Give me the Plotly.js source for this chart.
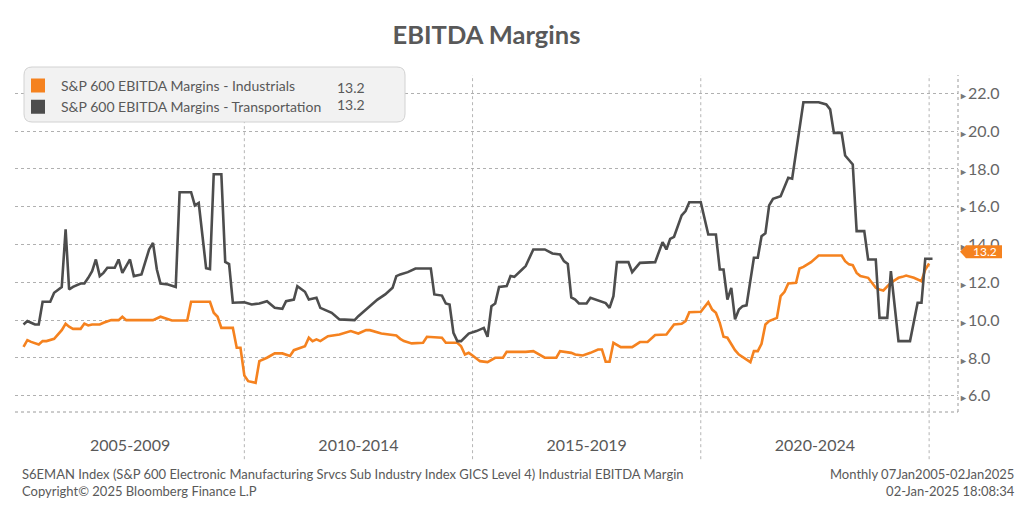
<!DOCTYPE html>
<html><head><meta charset="utf-8">
<script src="https://cdn.plot.ly/plotly-3.0.1.min.js"></script>
<style>html,body{margin:0;padding:0;background:#fff}#chart{width:1024px;height:513px}</style>
</head><body><div id="chart"></div>
<script>
const chartTitle = 'EBITDA Margins';
const seriesNames = ['S&P 600 EBITDA Margins - Industrials', 'S&P 600 EBITDA Margins - Transportation'];
const lastValues = [13.2, 13.2];
const periodTickVals = ['2007-07-02', '2012-07-02', '2017-07-02', '2022-07-02'];
const periodLabels = ['2005-2009', '2010-2014', '2015-2019', '2020-2024'];
const periodBounds = ['2010-01-01', '2015-01-01', '2020-01-01', '2025-01-01'];
const yTickVals = [6, 8, 10, 12, 14, 16, 18, 20, 22];
const footLeft = 'S6EMAN Index (S&P 600 Electronic Manufacturing Srvcs Sub Industry Index GICS Level 4) Industrial EBITDA Margin<br>Copyright© 2025 Bloomberg Finance L.P';
const footRight = 'Monthly 07Jan2005-02Jan2025<br>02-Jan-2025 18:08:34';

const indDates = ['2005-03','2005-04','2005-05','2005-07','2005-08','2005-09','2005-11','2005-12','2006-01','2006-02','2006-03','2006-04','2006-06','2006-07','2006-08','2006-09','2006-11','2006-12','2007-02','2007-04','2007-05','2007-06','2008-01','2008-03','2008-06','2008-10','2008-11','2009-04','2009-05','2009-06','2009-07','2009-10','2009-11','2009-12','2010-01','2010-02','2010-04','2010-05','2010-07','2010-09','2010-11','2011-01','2011-02','2011-05','2011-06','2011-07','2011-08','2011-09','2011-11','2012-02','2012-05','2012-07','2012-09','2012-10','2013-01','2013-05','2013-06','2013-07','2013-09','2013-12','2014-01','2014-05','2014-06','2014-09','2014-10','2014-11','2014-12','2015-01','2015-03','2015-05','2015-07','2015-09','2015-10','2016-03','2016-05','2016-08','2016-11','2016-12','2017-03','2017-04','2017-06','2017-08','2017-10','2017-11','2017-12','2018-01','2018-02','2018-04','2018-07','2018-09','2018-11','2019-01','2019-04','2019-06','2019-08','2019-09','2019-10','2020-01','2020-03','2020-04','2020-05','2020-06','2020-07','2020-08','2020-10','2020-11','2021-02','2021-03','2021-04','2021-05','2021-06','2021-07','2021-09','2021-10','2021-11','2021-12','2022-02','2022-03','2022-04','2022-06','2022-08','2023-02','2023-03','2023-04','2023-05','2023-06','2023-07','2023-09','2023-11','2023-12','2024-01','2024-03','2024-05','2024-06','2024-07','2024-09','2024-11','2024-12','2025-01'];
const indValues = [8.59,8.94,8.85,8.71,8.89,8.89,9.01,9.24,9.47,9.81,9.65,9.54,9.54,9.82,9.72,9.77,9.77,9.86,10.00,10.00,10.18,10.00,10.00,10.18,9.98,9.98,10.97,10.97,10.39,10.18,9.59,9.59,8.54,8.54,7.07,6.77,6.68,7.83,8.01,8.24,8.24,8.10,8.41,8.62,9.07,8.89,8.98,8.89,9.15,9.24,9.42,9.29,9.47,9.47,9.29,9.19,9.01,8.89,8.77,8.80,9.12,9.07,8.80,8.80,8.62,8.18,8.27,8.13,7.83,7.78,8.01,8.01,8.32,8.32,8.36,8.01,8.01,8.36,8.27,8.18,8.13,8.27,8.45,8.45,7.80,7.80,8.80,8.57,8.57,8.84,8.84,9.21,9.24,9.77,9.81,9.95,10.42,10.44,10.95,10.56,10.39,9.86,9.12,9.07,8.41,8.18,7.78,8.36,8.36,8.75,9.77,9.95,10.12,11.27,11.50,11.94,11.98,12.73,12.82,13.07,13.42,13.42,13.12,12.95,12.91,12.50,12.33,12.24,11.71,11.62,11.57,11.98,12.24,12.29,12.36,12.24,12.06,12.68,13.00];

const trnDates = ['2005-03','2005-04','2005-05','2005-06','2005-07','2005-08','2005-10','2005-11','2006-01','2006-02','2006-03','2006-04','2006-06','2006-07','2006-08','2006-09','2006-10','2006-11','2006-12','2007-01','2007-03','2007-04','2007-05','2007-07','2007-08','2007-10','2007-12','2008-01','2008-02','2008-03','2008-05','2008-07','2008-08','2008-11','2008-12','2009-01','2009-02','2009-03','2009-04','2009-05','2009-07','2009-08','2009-09','2009-10','2010-01','2010-03','2010-05','2010-07','2010-09','2010-11','2010-12','2011-02','2011-03','2011-05','2011-06','2011-08','2011-09','2011-12','2012-02','2012-06','2012-07','2012-09','2012-11','2012-12','2013-02','2013-04','2013-05','2013-06','2013-08','2013-10','2014-02','2014-03','2014-05','2014-06','2014-07','2014-08','2014-09','2014-10','2014-12','2015-02','2015-04','2015-05','2015-06','2015-07','2015-08','2015-10','2015-11','2015-12','2016-02','2016-03','2016-05','2016-08','2016-10','2016-12','2017-01','2017-02','2017-03','2017-04','2017-05','2017-07','2017-08','2017-10','2017-12','2018-01','2018-02','2018-03','2018-06','2018-07','2018-09','2019-01','2019-03','2019-04','2019-05','2019-06','2019-08','2019-09','2019-10','2020-01','2020-03','2020-05','2020-06','2020-07','2020-08','2020-09','2020-10','2020-11','2020-12','2021-01','2021-03','2021-04','2021-05','2021-06','2021-07','2021-08','2021-10','2021-12','2022-01','2022-04','2022-08','2022-10','2022-11','2022-12','2023-02','2023-03','2023-05','2023-06','2023-08','2023-09','2023-11','2023-12','2024-02','2024-03','2024-05','2024-08','2024-10','2024-11','2024-12','2025-01-28'];
const trnValues = [9.77,9.95,9.86,9.77,9.77,10.97,10.97,11.45,11.75,14.80,11.62,11.76,11.94,11.94,12.24,12.59,13.21,12.33,12.50,12.77,12.77,13.21,12.50,13.21,12.33,12.42,13.74,14.09,12.68,11.94,11.89,11.76,16.77,16.77,16.07,16.20,14.40,12.75,12.70,17.72,17.72,13.08,12.97,10.92,10.95,10.83,10.88,11.00,10.65,10.60,11.00,11.09,11.80,11.50,11.09,11.18,10.65,10.39,10.04,10.00,10.21,10.56,10.92,11.09,11.36,11.71,12.33,12.42,12.54,12.73,12.73,11.36,11.30,10.88,10.83,9.33,8.89,8.89,9.29,9.42,9.59,9.12,10.74,10.88,11.76,11.80,12.33,12.29,12.68,12.86,13.74,13.74,13.53,13.47,13.12,12.97,11.20,11.09,10.88,10.88,11.18,11.06,10.90,10.65,11.27,13.07,13.07,12.54,13.03,13.07,14.13,13.74,14.30,14.41,15.54,15.77,16.24,16.24,14.53,14.53,12.68,12.68,11.09,11.71,10.04,10.56,10.74,10.78,13.30,13.30,14.44,14.59,16.07,16.42,16.56,17.53,17.48,21.53,21.53,21.41,21.15,19.91,19.91,18.71,18.24,14.71,14.71,13.21,13.21,10.12,10.12,12.59,8.89,8.89,10.92,10.92,13.25,13.25];

const colors = ['#f5821f', '#4d4d4d'];
const textColor = '#595959';
const W = 1024, H = 513, L = 15, R = 66, T = 75, B = 101;
const pw = W - L - R, ph = H - T - B;
const px = x => (x - L) / pw;
const py = y => 1 - (y - T) / ph;

const traces = [
  {x: indDates, y: indValues, type: 'scatter', mode: 'lines', name: seriesNames[0], showlegend: false,
   line: {color: colors[0], width: 2.6}, legendgroup: 'a'},
  {x: trnDates, y: trnValues, type: 'scatter', mode: 'lines', name: seriesNames[1], showlegend: false,
   line: {color: colors[1], width: 2.6}, legendgroup: 'b'},
  {x: [null], y: [null], type: 'scatter', mode: 'markers', name: seriesNames[0], legendgroup: 'a',
   marker: {symbol: 'square', size: 12, color: colors[0], line: {color: colors[0], width: 2}}},
  {x: [null], y: [null], type: 'scatter', mode: 'markers', name: seriesNames[1], legendgroup: 'b',
   marker: {symbol: 'square', size: 12, color: colors[1], line: {color: colors[1], width: 2}}}
];

// rounded legend box path in paper coords
function roundRect(x0, y0, x1, y1, r) {
  const X = px, Y = py;
  return `M${X(x0 + r)},${Y(y0)} L${X(x1 - r)},${Y(y0)} Q${X(x1)},${Y(y0)} ${X(x1)},${Y(y0 + r)} ` +
         `L${X(x1)},${Y(y1 - r)} Q${X(x1)},${Y(y1)} ${X(x1 - r)},${Y(y1)} L${X(x0 + r)},${Y(y1)} ` +
         `Q${X(x0)},${Y(y1)} ${X(x0)},${Y(y1 - r)} L${X(x0)},${Y(y0 + r)} Q${X(x0)},${Y(y0)} ${X(x0 + r)},${Y(y0)} Z`;
}

const shapes = [];
periodBounds.forEach(d => shapes.push({type: 'line', xref: 'x', yref: 'paper', x0: d, x1: d, y0: -0.14, y1: 1,
  line: {color: '#b5b5b5', width: 1, dash: 'dot'}, layer: 'below'}));
shapes.push({type: 'line', xref: 'paper', yref: 'paper', x0: 0, x1: 1, y0: 0, y1: 0, line: {color: '#9a9a9a', width: 1, dash: 'dot'}});
shapes.push({type: 'line', xref: 'paper', yref: 'paper', x0: 1, x1: 1, y0: 0, y1: 1, line: {color: '#9a9a9a', width: 1, dash: 'dot'}});
shapes.push({type: 'path', xref: 'paper', yref: 'paper', path: roundRect(24, 67, 405, 122, 8),
  fillcolor: '#f2f2f2', line: {color: '#d2d2d2', width: 1}, layer: 'above'});
shapes.push({type: 'path', xref: 'paper', xsizemode: 'pixel', xanchor: 1, yref: 'y', ysizemode: 'pixel', yanchor: lastValues[0],
  path: 'M2,8 L8,14.5 L44,14.5 L44,1.5 L8,1.5 Z', fillcolor: colors[0], line: {width: 0}, layer: 'above'});

const annotations = [
  {xref: 'paper', yref: 'paper', x: px(335), y: py(87), xanchor: 'left', yanchor: 'middle', showarrow: false,
   text: lastValues[0].toFixed(1), font: {family: 'Lato', size: 14, color: textColor}},
  {xref: 'paper', yref: 'paper', x: px(335), y: py(104), xanchor: 'left', yanchor: 'middle', showarrow: false,
   text: lastValues[1].toFixed(1), font: {family: 'Lato', size: 14, color: textColor}},
  {xref: 'paper', yref: 'y', x: px(985), y: lastValues[0], yshift: 8, xanchor: 'center', yanchor: 'middle', showarrow: false,
   text: lastValues[0].toFixed(1), font: {family: 'Lato', size: 12, color: '#ffffff'}},
  {xref: 'paper', yref: 'paper', x: px(20), y: py(482), xanchor: 'left', yanchor: 'middle', align: 'left', showarrow: false,
   text: footLeft, font: {family: 'Lato', size: 13, color: textColor}},
  {xref: 'paper', yref: 'paper', x: px(1017), y: py(482), xanchor: 'right', yanchor: 'middle', align: 'right', showarrow: false,
   text: footRight, font: {family: 'Lato', size: 13, color: textColor}}
];

const layout = {
  width: W, height: H,
  margin: {l: L, r: R, t: T, b: B},
  paper_bgcolor: '#ffffff', plot_bgcolor: '#ffffff',
  font: {family: 'Lato, "Open Sans", sans-serif', color: textColor},
  title: {text: chartTitle, x: 0.5, xref: 'paper', y: 1 - 35 / H, yref: 'container', yanchor: 'middle',
          font: {family: 'Lato', size: 25.5, weight: 'bold', color: textColor}},
  showlegend: true,
  legend: {x: px(15), y: py(70), xanchor: 'left', yanchor: 'top', bgcolor: 'rgba(0,0,0,0)', borderwidth: 0,
           font: {family: 'Lato', size: 14, color: textColor}, itemwidth: 36, tracegroupgap: 0, itemclick: false},
  xaxis: {type: 'date', range: ['2004-12-23', '2025-08-20'], tickvals: periodTickVals, ticktext: periodLabels,
          ticks: 'outside', ticklen: 19, tickcolor: 'rgba(0,0,0,0)', showgrid: false, zeroline: false, showline: false,
          tickfont: {family: 'Lato', size: 16, color: textColor}, fixedrange: true},
  yaxis: {side: 'right', range: [5.14, 22.97], tickvals: yTickVals,
          ticktext: yTickVals.map(v => '<span style="font-size:9px;fill:#777">►</span>' + v.toFixed(1)),
          ticks: '', showgrid: true, gridcolor: '#b0b0b0', griddash: 'dot', gridwidth: 1, zeroline: false, showline: false,
          tickfont: {family: 'Lato', size: 16, color: '#666666'}, fixedrange: true},
  shapes: shapes,
  annotations: annotations
};

Plotly.newPlot('chart', traces, layout, {displayModeBar: false, staticPlot: true});
</script>
</body></html>
